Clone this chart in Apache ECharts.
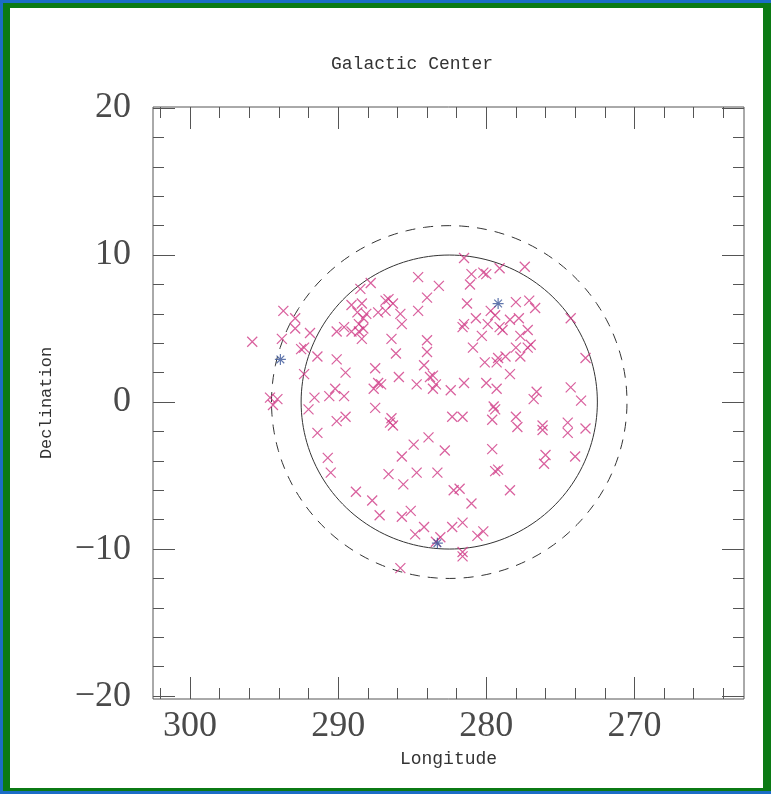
<!DOCTYPE html>
<html><head><meta charset="utf-8">
<script src="https://cdn.jsdelivr.net/npm/echarts@6/dist/echarts.min.js"></script>
<style>
html,body{margin:0;padding:0;width:771px;height:794px;overflow:hidden;background:#1b6dc6;}
#frame{position:absolute;left:3px;top:3px;width:768px;height:788px;background:#0b7a14;}
#paper{position:absolute;left:7px;top:5px;right:8px;bottom:3px;background:#fff;}
#chart{position:absolute;left:0;top:0;width:771px;height:794px;}
</style></head>
<body><div id="frame"><div id="paper"></div></div><div id="chart"></div>
<script>
const chartTitle = 'Galactic Center';
const xName = 'Longitude';
const yName = 'Declination';
const xTickLabels = [300, 290, 280, 270];
const yTickLabels = [20, 10, 0, -10, -20];
const xMinorTicks = [264, 266, 268, 270, 272, 274, 276, 278, 280, 282, 284, 286, 288, 290, 292, 294, 296, 298, 300, 302];
const yMinorTicks = [-20, -18, -16, -14, -12, -10, -8, -6, -4, -2, 0, 2, 4, 6, 8, 10, 12, 14, 16, 18, 20];

// Sources (x markers): longitude, declination
const crossLon = [
 295.8, 293.7, 292.9, 292.9, 293.8, 291.9, 292.5, 292.3, 291.4, 292.3,
 290.1, 289.5, 287.5, 285.9, 287.3, 287.1, 287.6, 294.6, 294.1, 294.4,
 291.6, 290.6, 290.2, 289.6, 284.7, 287.5, 288.5, 287.8, 286.6, 286.8,
 289.1, 288.4, 288.7, 288.1, 287.3, 286.8, 286.3, 285.8, 285.7, 288.3,
 288.6, 290.1, 289.6, 289.1, 288.6, 288.3, 288.4, 286.4, 286.1, 284.6,
 284.6, 292.0, 290.1, 289.5, 291.4, 286.4, 286.5, 286.3, 284.9, 285.7,
 290.7, 290.5, 286.6, 284.7, 285.6, 288.8, 287.7, 287.2, 285.7, 285.1,
 284.8, 285.8,
 281.5, 281.0, 280.2, 280.0, 279.1, 277.4, 281.1, 283.2, 284.0, 281.3,
 278.0, 277.1, 276.7, 279.7, 279.4, 280.7, 281.5, 281.6, 279.9, 279.1,
 278.9, 278.4, 277.8, 280.3, 277.2, 277.7, 277.0, 277.2, 278.0, 280.9,
 278.7, 277.7, 279.2, 279.3, 280.1, 274.3, 273.3, 284.0, 284.0, 284.2,
 283.6, 283.8, 283.4, 283.6, 282.4, 281.5, 280.0, 279.3, 278.4, 276.8,
 276.6, 274.3, 273.6, 279.5, 279.4, 279.6, 282.3, 281.6, 278.0, 277.9,
 276.2, 276.2, 274.5, 274.5, 273.3, 283.9, 282.8, 279.6, 276.0, 276.1,
 274.0, 283.3, 279.4, 279.2, 282.2, 281.8, 278.4, 281.0, 284.2, 282.3,
 281.6, 280.6, 280.2, 283.1, 281.6, 281.6, 283.4
];
const crossDec = [
 4.1, 6.2, 5.7, 5.0, 4.3, 4.7, 3.6, 3.7, 3.1, 1.9,
 2.9, 2.0, 2.3, 1.7, 1.3, 1.2, 0.9, 0.3, 0.2, -0.2,
 0.3, 0.4, 0.9, 0.4, 1.2, -0.4, 7.7, 8.1, 7.0, 6.9,
 6.6, 6.7, 6.1, 6.0, 6.1, 6.2, 6.7, 6.0, 5.3, 5.7,
 5.3, 4.8, 5.1, 4.8, 4.8, 5.0, 4.3, 4.3, 3.3, 8.5,
 6.2, -0.5, -1.3, -1.0, -2.1, -1.1, -1.4, -1.6, -2.9, -3.7,
 -3.8, -4.8, -4.9, -4.8, -5.6, -6.1, -6.7, -7.7, -7.8, -7.4,
 -9.0, -11.3,
 9.8, 8.7, 8.8, 8.7, 9.1, 9.2, 8.0, 7.9, 7.1, 6.7,
 6.8, 6.9, 6.4, 6.2, 5.9, 5.7, 5.3, 5.1, 5.3, 5.1,
 4.9, 5.6, 5.7, 4.5, 4.9, 4.5, 3.9, 3.7, 3.7, 3.7,
 3.1, 3.1, 3.0, 2.7, 2.7, 5.7, 3.0, 4.2, 3.4, 2.5,
 1.8, 1.7, 1.2, 0.9, 0.8, 1.3, 1.3, 0.9, 1.9, 0.2,
 0.7, 1.0, 0.1, -0.3, -0.5, -1.2, -1.0, -1.0, -1.0, -1.7,
 -1.6, -1.9, -1.4, -2.1, -1.8, -2.4, -3.3, -3.2, -3.6, -4.2,
 -3.7, -4.8, -4.7, -4.6, -6.0, -5.9, -6.0, -6.9, -8.5, -8.5,
 -8.2, -9.1, -8.8, -9.2, -10.2, -10.5, -9.5
];
// Asterisk markers
const starLon = [293.9, 279.2, 283.3];
const starDec = [2.9, 6.7, -9.6];
// Reference circles (degrees)
const circleCenter = [282.5, 0];
const innerRadius = 10;
const outerRadius = 12;

const X_MIN = 262.6, X_MAX = 302.5, Y_MIN = -20.2, Y_MAX = 20.07;
const tickColor = '#555';
const crossColor = '#cf3a86';
const starColor = '#3a5599';
const labelFont = { fontFamily: 'Liberation Serif', fontSize: 36, color: '#4a4a4a' };

function xAx(pos, ticks, len, withLabels) {
  return {
    type: 'value', position: pos, min: X_MIN, max: X_MAX, inverse: true,
    axisLine: { show: false, onZero: false }, splitLine: { show: false },
    axisTick: { show: true, inside: true, length: len, customValues: ticks, lineStyle: { color: tickColor, width: 1 } },
    axisLabel: withLabels ? Object.assign({ show: true, margin: 10, customValues: xTickLabels }, labelFont) : { show: false },
    name: withLabels ? xName : '', nameLocation: 'middle', nameGap: 50,
    nameTextStyle: { fontFamily: 'Liberation Mono', fontSize: 18, color: '#333' }
  };
}
function yAx(pos, ticks, len, withLabels) {
  return {
    type: 'value', position: pos, min: Y_MIN, max: Y_MAX,
    axisLine: { show: false, onZero: false }, splitLine: { show: false },
    axisTick: { show: true, inside: true, length: len, customValues: ticks, lineStyle: { color: tickColor, width: 1 } },
    axisLabel: withLabels ? Object.assign({ show: true, margin: 22, customValues: yTickLabels,
      formatter: v => (v < 0 ? '\u2212' + Math.abs(v) : String(v)) }, labelFont) : { show: false },
    name: withLabels ? yName : '', nameLocation: 'middle', nameGap: 98,
    nameTextStyle: { fontFamily: 'Liberation Mono', fontSize: 17, color: '#333' }
  };
}

const chart = echarts.init(document.getElementById('chart'), null, { renderer: 'canvas' });
chart.setOption({
  animation: false,
  backgroundColor: 'transparent',
  title: { text: chartTitle, left: 407, top: 50, textAlign: 'center',
    textStyle: { fontFamily: 'Liberation Mono', fontSize: 18, fontWeight: 'normal', color: '#333' } },
  grid: { left: 153, right: 27, top: 107, bottom: 95, show: true, borderColor: '#555', borderWidth: 1, backgroundColor: 'transparent' },
  xAxis: [
    xAx('bottom', xTickLabels, 22, true),
    xAx('bottom', xMinorTicks, 11, false),
    xAx('top', xTickLabels, 22, false),
    xAx('top', xMinorTicks, 11, false)
  ],
  yAxis: [
    yAx('left', yTickLabels, 22, true),
    yAx('left', yMinorTicks, 11, false),
    yAx('right', yTickLabels, 22, false),
    yAx('right', yMinorTicks, 11, false)
  ],
  series: [
    {
      type: 'custom', xAxisIndex: 0, yAxisIndex: 0, silent: true, z: 1,
      data: [[circleCenter[0], circleCenter[1], innerRadius, 0], [circleCenter[0], circleCenter[1], outerRadius, 1]],
      encode: { x: 0, y: 1 },
      renderItem: function (params, api) {
        const cx = api.value(0), cy = api.value(1), r = api.value(2), dashed = api.value(3);
        const pts = [];
        for (let a = 0; a <= 360; a += 2) {
          const t = a * Math.PI / 180;
          pts.push(api.coord([cx + r * Math.cos(t), cy + r * Math.sin(t)]));
        }
        return { type: 'polyline', shape: { points: pts },
          style: { stroke: '#333', fill: null, lineWidth: 1, lineDash: dashed ? [10, 8] : null } };
      }
    },
    {
      type: 'scatter', xAxisIndex: 0, yAxisIndex: 0, z: 3, silent: true,
      data: crossLon.map((v, i) => [v, crossDec[i]]),
      symbol: 'path://M0,0L10,10M10,0L0,10', symbolSize: 10,
      itemStyle: { color: crossColor, borderColor: crossColor, borderWidth: 1.25 },
      emphasis: { disabled: true }
    },
    {
      type: 'scatter', xAxisIndex: 0, yAxisIndex: 0, z: 4, silent: true,
      data: starLon.map((v, i) => [v, starDec[i]]),
      symbol: 'path://M5,0L5,10M0,5L10,5M1.5,1.5L8.5,8.5M8.5,1.5L1.5,8.5', symbolSize: 11,
      itemStyle: { color: starColor, borderColor: starColor, borderWidth: 1.2 },
      emphasis: { disabled: true }
    }
  ]
});
</script>
</body></html>
